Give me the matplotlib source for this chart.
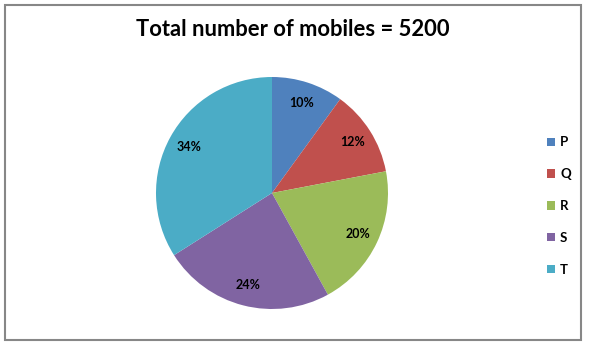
import matplotlib
matplotlib.use('Agg')
import matplotlib.pyplot as plt
from matplotlib.patches import Rectangle, Patch

plt.rcParams['font.family'] = ['Lato', 'DejaVu Sans']

# data
labels = ['P', 'Q', 'R', 'S', 'T']
shares = [10, 12, 20, 24, 34]
colors = ['#4F81BD', '#C0504D', '#9BBB59', '#8064A2', '#4BACC6']
title = 'Total number of mobiles = 5200'

W, H = 594, 349
fig = plt.figure(figsize=(W / 100, H / 100), dpi=100)

# outer chart border
fig.patches.append(Rectangle((5 / W, (H - 340) / H), 576 / W, 335 / H,
                             transform=fig.transFigure, fill=False,
                             edgecolor='#878787', linewidth=1.5))

# pie axes: centre (272, 193) px, radius 116 px
cx, cy, r = 272, 193, 116
ax = fig.add_axes([(cx - r) / W, (H - cy - r) / H, 2 * r / W, 2 * r / H])
wedges, texts, autotexts = ax.pie(shares, colors=colors, startangle=90, counterclock=False,
                                  autopct='%d%%', pctdistance=0.82, radius=1,
                                  wedgeprops=dict(linewidth=0),
                                  textprops=dict(fontsize=9, fontweight='bold', color='black'))
ax.set_xlim(-1, 1)
ax.set_ylim(-1, 1)
ax.set_aspect('equal')

fig.text(293 / W, 1 - 30 / H, title, ha='center', va='center',
         fontsize=15.8, fontweight='bold')

handles = [Patch(facecolor=c, edgecolor='none') for c in colors]
fig.legend(handles, labels, loc='center left', bbox_to_anchor=(535 / W, 1 - 206 / H),
           frameon=False, prop=dict(size=9.5, weight='bold'),
           handlelength=0.6, handleheight=0.6, handletextpad=0.4, labelspacing=1.5)

fig.savefig('out.png', dpi=100)
